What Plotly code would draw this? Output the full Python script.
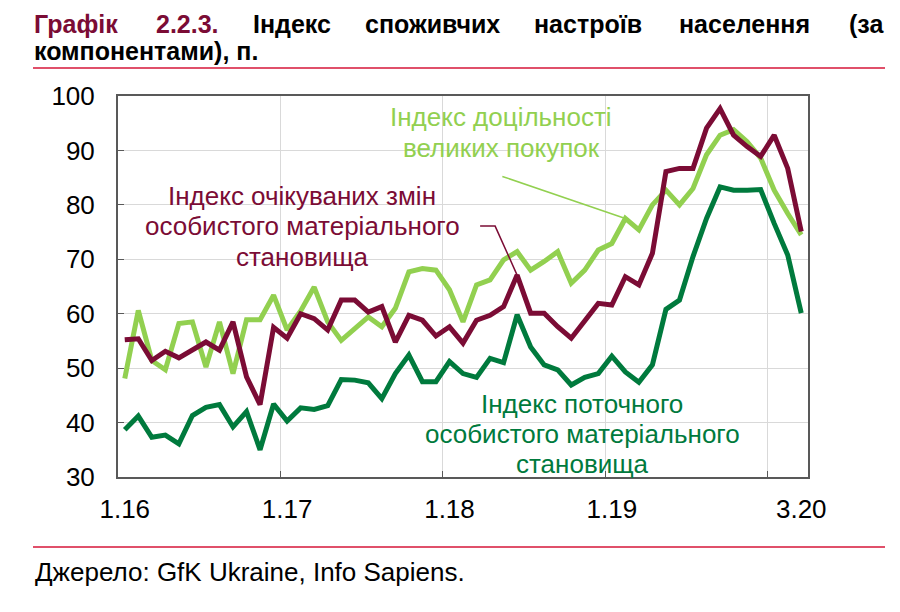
import plotly.graph_objects as go

# monthly, Jan 2016 .. Mar 2020
months = list(range(51))
tick_pos = [0, 12, 24, 36, 50]
tick_text = ["1.16", "1.17", "1.18", "1.19", "3.20"]

# Індекс доцільності великих покупок
purchases = [48.1, 60.6, 51.4, 49.7, 58.2, 58.5, 50.2, 58.5, 49.0, 58.9, 58.9, 63.4,
             57.0, 60.5, 64.9, 58.5, 55.1, 57.3, 59.4, 57.6, 61.0, 67.7, 68.3, 68.0,
             64.4, 58.5, 65.3, 66.2, 69.9, 71.4, 68.0, 69.6, 71.4, 65.6, 68.0, 71.7,
             72.9, 77.5, 75.4, 80.0, 82.7, 80.0, 83.0, 89.2, 92.8, 93.8, 91.6, 88.6,
             82.7, 78.4, 74.5]

# Індекс очікуваних змін особистого матеріального становища
expectations = [55.2, 55.4, 51.4, 53.1, 51.9, 53.4, 54.8, 53.3, 58.5, 48.4, 43.3, 57.5,
                55.5, 60.0, 59.1, 57.0, 62.5, 62.5, 60.3, 61.3, 54.8, 59.7, 58.8, 55.9,
                57.6, 54.6, 58.8, 59.7, 61.3, 67.1, 60.1, 60.1, 57.6, 55.5, 58.8, 61.9,
                61.6, 66.8, 65.3, 71.1, 86.1, 86.7, 86.7, 94.1, 97.7, 92.8, 90.7, 88.9,
                92.8, 86.7, 75.1]

# Індекс поточного особистого матеріального становища
current = [38.7, 41.2, 37.3, 37.7, 36.1, 41.3, 42.8, 43.3, 39.2, 42.0, 35.0, 43.4,
           40.3, 42.7, 42.4, 43.1, 47.9, 47.8, 47.3, 44.4, 49.0, 52.4, 47.5, 47.5,
           51.2, 49.0, 48.3, 51.8, 51.0, 59.8, 53.9, 50.6, 49.7, 46.9, 48.3, 49.0,
           52.2, 49.3, 47.4, 50.6, 60.8, 62.5, 70.5, 77.5, 83.3, 82.7, 82.7, 82.8,
           76.6, 70.8, 60.1]

LIGHT = "#92D050"
MAROON = "#7B0C35"
GREEN = "#007A3D"
RULE = "#E0506A"
FONT = "Liberation Sans, Arial, sans-serif"

# page offset of the plot div (body margin) and plot box in figure pixels
OFF = 8
L, T, PW, PH = 110, 88, 690, 381


def px(x):
    # page pixel -> paper x
    return (x - OFF - L) / PW


def py(y):
    # page pixel -> paper y
    return (T + PH - (y - OFF)) / PH


fig = go.Figure()
fig.add_scatter(x=months, y=purchases, mode="lines",
                line=dict(color=LIGHT, width=5))
fig.add_scatter(x=months, y=current, mode="lines",
                line=dict(color=GREEN, width=5))
fig.add_scatter(x=months, y=expectations, mode="lines",
                line=dict(color=MAROON, width=5))

fig.update_layout(
    width=892, height=604,
    margin=dict(l=L, r=892 - L - PW, t=T, b=604 - T - PH),
    paper_bgcolor="white", plot_bgcolor="white",
    showlegend=False,
    font=dict(family=FONT, size=26, color="black"),
)
fig.update_xaxes(
    range=[-0.5, 50.5],
    tickmode="array", tickvals=tick_pos, ticktext=tick_text,
    showgrid=False, ticks="", ticklabelstandoff=8,
    showline=True, mirror=True, linecolor="#595959", linewidth=2,
    minor=dict(tickmode="array", tickvals=[11.5, 23.5, 35.5, 47.5],
               showgrid=True, gridcolor="#D9D9D9", gridwidth=1,
               ticks="inside", ticklen=6, tickcolor="#595959"),
    zeroline=False,
)
fig.update_yaxes(
    range=[30, 100], dtick=10,
    showgrid=True, gridcolor="#D9D9D9", gridwidth=1,
    ticks="inside", ticklen=6, tickcolor="#595959",
    ticklabelstandoff=16,
    showline=True, mirror=True, linecolor="#595959", linewidth=2,
    zeroline=False,
)

# title, justified word by word
title_words = [("Графік", 33, "left", MAROON), ("2.2.3.", 187, "center", MAROON),
               ("Індекс", 292, "center", "black"), ("споживчих", 432, "center", "black"),
               ("настроїв", 588, "center", "black"), ("населення", 744, "center", "black"),
               ("(за", 885, "right", "black")]
for word, wx, anchor, col in title_words:
    fig.add_annotation(text="<b>%s</b>" % word, xref="paper", yref="paper",
                       x=px(wx), y=py(24), xanchor=anchor,
                       yanchor="middle", showarrow=False, borderpad=0,
                       font=dict(size=25, color=col, family=FONT))
fig.add_annotation(text="<b>компонентами), п.</b>", xref="paper", yref="paper",
                   x=px(33), y=py(51), xanchor="left",
                   yanchor="middle", showarrow=False, borderpad=0,
                   font=dict(size=25, color="black", family=FONT))

# red rules
for ry in [68, 547]:
    fig.add_shape(type="line", xref="paper", yref="paper",
                  x0=px(33), x1=px(885), y0=py(ry), y1=py(ry),
                  line=dict(color=RULE, width=2))

fig.add_annotation(text="Джерело: GfK Ukraine, Info Sapiens.", xref="paper", yref="paper",
                   x=px(33), y=py(572), xanchor="left",
                   yanchor="middle", showarrow=False,
                   font=dict(size=26, color="black", family=FONT))

# series labels
labels = [
    (["Індекс доцільності", "великих покупок"], 501, [117, 148], LIGHT),
    (["Індекс очікуваних змін", "особистого матеріального", "становища"],
     302, [196, 226, 257], MAROON),
    (["Індекс поточного", "особистого матеріального", "становища"],
     582, [404, 434, 464], GREEN),
]
for lines, cx, ys, col in labels:
    for txt, ly in zip(lines, ys):
        fig.add_annotation(text=txt.replace(" ", "\u00a0"), xref="paper", yref="paper",
                           x=px(cx), y=py(ly),
                           xanchor="center", yanchor="middle", showarrow=False,
                           font=dict(size=26, color=col, family=FONT))

# pointer lines, anchored on the data point they mark
fig.add_shape(type="line", xref="x", yref="y",
              xsizemode="pixel", ysizemode="pixel",
              xanchor=37, yanchor=purchases[37],
              x0=0, y0=0, x1=-123, y1=42,
              line=dict(color=LIGHT, width=1.5))
fig.add_shape(type="path", xref="x", yref="y",
              xsizemode="pixel", ysizemode="pixel",
              xanchor=29, yanchor=expectations[29],
              path="M 0 0 L -22 49 L -37 49",
              line=dict(color=MAROON, width=1.5))

fig.write_html("out.html")
